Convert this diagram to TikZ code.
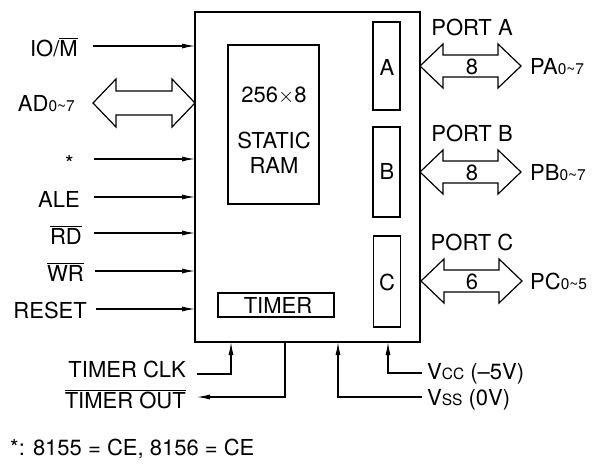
\documentclass[tikz,border=0pt]{standalone}
\usepackage{fontspec}
\setmainfont{TeX Gyre Heros}
\usetikzlibrary{arrows.meta}
\newcommand\ovl[1]{$\overline{\hbox{#1}}$}
\newcommand\sbs[1]{{\fontsize{15.5pt}{15.5pt}\selectfont #1}}
\newcommand\dblarr[6]{% xa xb y d H h
  \draw[dbl] (#1,#3) -- ({#1+#4},{#3-#5}) -- ({#1+#4},{#3-#6}) -- ({#2-#4},{#3-#6}) -- ({#2-#4},{#3-#5}) -- (#2,#3)
   -- ({#2-#4},{#3+#5}) -- ({#2-#4},{#3+#6}) -- ({#1+#4},{#3+#6}) -- ({#1+#4},{#3+#5}) -- cycle;}
\begin{document}
\begin{tikzpicture}[x=1pt,y=-1pt,
  lbl/.style={inner sep=0pt,font=\fontsize{22pt}{22pt}\selectfont},
  box/.style={draw,line width=1.2pt,inner sep=0pt,outer sep=0pt},
  mainbox/.style={draw,line width=1.7pt,inner sep=0pt,outer sep=0pt,minimum width=225pt,minimum height=330pt},
  sig/.style={line width=1.1pt,-{Latex[length=13pt,width=5pt]}},
  dbl/.style={line width=1.2pt,line join=miter}]
\useasboundingbox (0,0) rectangle (599,466);
% main box
\node[mainbox] (main) at (307.5,177) {};
\node[box,minimum width=91pt,minimum height=159pt] (ram) at (273.5,124.5) {};
\node[lbl,anchor=base] at (274,102) {256$\times$8};
\node[lbl,anchor=base] at (274,148) {STATIC};
\node[lbl,anchor=base] at (274,173) {RAM};
\node[box,minimum width=27pt,minimum height=88pt] (pa) at (386.5,66) {};
\node[box,minimum width=27pt,minimum height=90pt] (pb) at (386.5,172) {};
\node[box,minimum width=27pt,minimum height=91pt] (pc) at (387,281.5) {};
\node[lbl,anchor=base] at (387,75) {A};
\node[lbl,anchor=base] at (387,179) {B};
\node[lbl,anchor=base] at (387,290) {C};
\node[box,minimum width=116pt,minimum height=24pt] (tmr) at (276,305) {};
\node[lbl,anchor=base] at (278,313) {TIMER};
% left inputs
\coordinate (io) at (93,46);
\coordinate (cs) at (94,159);
\coordinate (ale) at (94,197);
\coordinate (rd) at (94,233);
\coordinate (wr) at (95,271);
\coordinate (rst) at (96,309);
\node[lbl,anchor=base east] (lio) at (78,56) {IO/\ovl{M}};
\node[lbl,anchor=base east] (lad) at (75,111) {AD\sbs{0\textasciitilde7}};
\node[lbl,anchor=base east] (lcs) at (74,171) {*};
\node[lbl,anchor=base east] (lale) at (80,207) {ALE};
\node[lbl,anchor=base east] (lrd) at (82,244) {\ovl{RD}};
\node[lbl,anchor=base east] (lwr) at (84,281) {\ovl{WR}};
\node[lbl,anchor=base east] (lrst) at (87,318) {RESET};
\foreach \c in {io,cs,ale,rd,wr,rst} \draw[sig] (\c) -- (\c -| main.west);
\dblarr{93}{195}{103}{23}{24}{12}
% ports
\dblarr{420}{521}{66}{23}{22}{11}
\dblarr{420}{521}{172}{23}{22}{11}
\dblarr{421}{522}{281}{23}{22}{11}
\node[lbl,anchor=base] at (472,35) {PORT A};
\node[lbl,anchor=base] at (472,141) {PORT B};
\node[lbl,anchor=base] at (472,250) {PORT C};
\node[lbl,anchor=base] at (472,74) {8};
\node[lbl,anchor=base] at (472,180) {8};
\node[lbl,anchor=base] at (472,289) {6};
\node[lbl,anchor=base west] at (530,74) {PA\sbs{0\textasciitilde7}};
\node[lbl,anchor=base west] at (530,180) {PB\sbs{0\textasciitilde7}};
\node[lbl,anchor=base west] at (530,289) {PC\sbs{0\textasciitilde5}};
% bottom
\coordinate (clk) at (197,374);
\coordinate (clkup) at (231,374);
\coordinate (out) at (197,397);
\coordinate (outdn) at (285,397);
\coordinate (vss) at (422,397);
\coordinate (vssup) at (338,397);
\coordinate (vcc) at (422,373);
\coordinate (vccup) at (388,373);
\draw[sig] (clk) -- (clkup) -- (clkup |- main.south);
\draw[sig] (outdn |- main.south) -- (outdn) -- (out);
\draw[sig] (vss) -- (vssup) -- (vssup |- main.south);
\draw[sig] (vcc) -- (vccup) -- (vccup |- main.south);
\node[lbl,anchor=base east] at (186,377) {TIMER CLK};
\node[lbl,anchor=base east] at (186,408) {\ovl{TIMER OUT}};
\node[lbl,anchor=base west] at (427,379) {V\sbs{CC} (\textendash5V)};
\node[lbl,anchor=base west] at (427,405) {V\sbs{SS} (0V)};
% footnote
\node[lbl,anchor=base west] at (10,455) {*: 8155 = CE, 8156 = CE};
\end{tikzpicture}
\end{document}
